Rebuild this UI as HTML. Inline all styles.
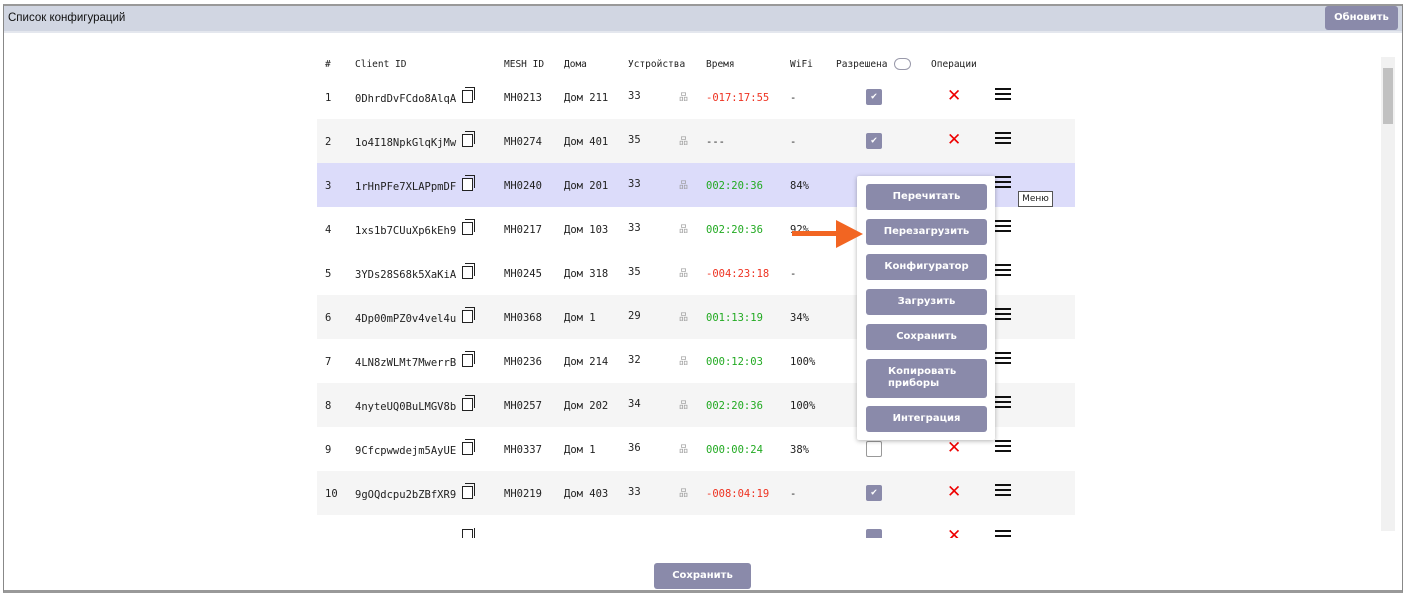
<!DOCTYPE html>
<html><head><meta charset="utf-8"><style>
*{box-sizing:border-box;margin:0;padding:0}
body{width:1406px;height:594px;background:#fff;font-family:"DejaVu Sans Mono","Liberation Mono",monospace;font-size:10.5px;color:#222;position:relative;overflow:hidden}
.frame{position:absolute;left:3px;top:4px;width:1400px;height:589px;border:1px solid #888;border-top:2px solid #999;border-bottom:3px solid #999}
.hdr{position:absolute;left:4px;top:6px;width:1398px;height:27px;background:#d1d6e2;border-bottom:2px solid #e4e7ee}
.hdr span{position:absolute;left:4px;top:6px;font-family:"Liberation Sans",sans-serif;font-size:11.5px;color:#111}
.btn{position:absolute;background:#8a8aaa;color:#fff;border-radius:3px;font-family:"DejaVu Sans",sans-serif;font-size:10px;font-weight:bold;text-align:center}
.row{position:absolute;left:317px;width:758px;height:44px}
.c{position:absolute;white-space:nowrap}
.cb{position:absolute;width:16px;height:16px;border-radius:2px;background:#8a8aaa;color:#fff;font-size:10px;text-align:center;line-height:16px}
.cbe{position:absolute;width:16px;height:16px;border-radius:2px;border:1px solid #999;background:#fff}
.x{position:absolute;color:#e00;font-family:"DejaVu Sans",sans-serif;font-size:17px;line-height:17px}
.hb{position:absolute;width:16px;height:12px;border-top:2.5px solid #111;border-bottom:2.5px solid #111}
.hb:after{content:"";position:absolute;left:0;top:2.5px;width:16px;height:2.5px;background:#111}
.cp{position:absolute;width:11px;height:13px;border:1.5px solid #222;background:#fff}
.cp:before{content:"";position:absolute;left:2px;top:-4px;width:9px;height:12px;border:1.5px solid #222;border-left:none;border-bottom:none}
.red{color:#e32}.grn{color:#2a2}
.ic{position:absolute;color:#999;font-size:9px}
</style></head><body>
<div class="frame"></div>
<div class="hdr"><span>Список конфигураций</span></div>
<div class="btn" style="left:1325px;top:6px;width:73px;height:24px;line-height:24px">Обновить</div>

<div class="c" style="left:325px;top:59px;font-size:9.5px"># </div>
<div class="c" style="left:355px;top:59px;font-size:9.5px">Client ID</div>
<div class="c" style="left:504px;top:59px;font-size:9.5px">MESH ID</div>
<div class="c" style="left:564px;top:59px;font-size:9.5px">Дома</div>
<div class="c" style="left:628px;top:59px;font-size:9.5px">Устройства</div>
<div class="c" style="left:706px;top:59px;font-size:9.5px">Время</div>
<div class="c" style="left:790px;top:59px;font-size:9.5px">WiFi</div>
<div class="c" style="left:836px;top:59px;font-size:9.5px">Разрешена</div>
<div style="position:absolute;left:894px;top:58px;width:17px;height:12px;border:1px solid #99a;border-radius:7px"></div>
<div class="c" style="left:931px;top:59px;font-size:9.5px">Операции</div>

<div class="row" style="top:119px;background:#f5f5f5"></div>
<div class="row" style="top:163px;background:#dcdcfa"></div>
<div class="row" style="top:295px;background:#f5f5f5"></div>
<div class="row" style="top:383px;background:#f5f5f5"></div>
<div class="row" style="top:471px;background:#f5f5f5"></div>

<div id="rows"></div>
<script>
var d=[["1","0DhrdDvFCdo8AlqA","MH0213","Дом 211","33","-017:17:55","red","-",1],
["2","1o4I18NpkGlqKjMw","MH0274","Дом 401","35","---","","-",1],
["3","1rHnPFe7XLAPpmDF","MH0240","Дом 201","33","002:20:36","grn","84%",2],
["4","1xs1b7CUuXp6kEh9","MH0217","Дом 103","33","002:20:36","grn","92%",2],
["5","3YDs28S68k5XaKiA","MH0245","Дом 318","35","-004:23:18","red","-",2],
["6","4Dp00mPZ0v4vel4u","MH0368","Дом 1","29","001:13:19","grn","34%",2],
["7","4LN8zWLMt7MwerrB","MH0236","Дом 214","32","000:12:03","grn","100%",2],
["8","4nyteUQ0BuLMGV8b","MH0257","Дом 202","34","002:20:36","grn","100%",2],
["9","9Cfcpwwdejm5AyUE","MH0337","Дом 1","36","000:00:24","grn","38%",0],
["10","9gOQdcpu2bZBfXR9","MH0219","Дом 403","33","-008:04:19","red","-",1]];
var h="";
d.forEach(function(r,i){var y=92+i*44;
h+='<div class="c" style="left:325px;top:'+y+'px">'+r[0]+'</div>';
h+='<div class="c" style="left:355px;top:'+(y+1)+'px">'+r[1]+'</div>';
h+='<div class="cp" style="left:462px;top:'+(y-2)+'px"></div>';
h+='<div class="c" style="left:504px;top:'+y+'px">'+r[2]+'</div>';
h+='<div class="c" style="left:564px;top:'+y+'px">'+r[3]+'</div>';
h+='<div class="c" style="left:628px;top:'+(y-2)+'px">'+r[4]+'</div>';
h+='<div class="ic" style="left:679px;top:'+(y-2)+'px">品</div>';
h+='<div class="c '+r[6]+'" style="left:706px;top:'+y+'px">'+r[5]+'</div>';
h+='<div class="c" style="left:790px;top:'+y+'px">'+r[7]+'</div>';
if(r[8]==1)h+='<div class="cb" style="left:866px;top:'+(y-3)+'px">✔</div>';
if(r[8]==0)h+='<div class="cbe" style="left:866px;top:'+(y-3)+'px"></div>';
if(r[8]!=2||i>=8)h+='<div class="x" style="left:947px;top:'+(y-4)+'px">✕</div>';
h+='<div class="hb" style="left:995px;top:'+(y-4)+'px"></div>';});
document.getElementById("rows").innerHTML=h;
</script>
<div style="position:absolute;left:317px;top:528px;width:758px;height:10px;overflow:hidden">
<div class="cp" style="left:145px;top:1px"></div>
<div class="cb" style="left:549px;top:1px"></div>
<div class="x" style="left:630px;top:0px">✕</div>
<div class="hb" style="left:678px;top:2px"></div>
</div>

<div style="position:absolute;left:1381px;top:57px;width:14px;height:474px;background:#f1f1f1"></div>
<div style="position:absolute;left:1383px;top:68px;width:10px;height:56px;background:#c1c1c1"></div>

<div style="position:absolute;left:1018px;top:191px;width:35px;height:16px;border:1px solid #555;background:#fff;font-family:'DejaVu Sans',sans-serif;font-size:9px;text-align:center;line-height:14px">Меню</div>

<div style="position:absolute;left:857px;top:176px;width:138px;height:264px;background:#fff;box-shadow:0 1px 5px rgba(0,0,0,.3);border-radius:2px"></div>
<div class="btn" style="left:866px;top:184px;width:121px;height:26px;line-height:26px">Перечитать</div>
<div class="btn" style="left:866px;top:219px;width:121px;height:26px;line-height:26px">Перезагрузить</div>
<div class="btn" style="left:866px;top:254px;width:121px;height:26px;line-height:26px">Конфигуратор</div>
<div class="btn" style="left:866px;top:289px;width:121px;height:26px;line-height:26px">Загрузить</div>
<div class="btn" style="left:866px;top:324px;width:121px;height:26px;line-height:26px">Сохранить</div>
<div class="btn" style="left:866px;top:359px;width:121px;height:39px;line-height:12px;text-align:left;padding:7px 0 0 22px">Копировать<br>приборы</div>
<div class="btn" style="left:866px;top:406px;width:121px;height:26px;line-height:26px">Интеграция</div>

<div style="position:absolute;left:792px;top:231px;width:45px;height:5px;background:#f26522"></div>
<div style="position:absolute;left:836px;top:220px;width:0;height:0;border-top:14px solid transparent;border-bottom:14px solid transparent;border-left:27px solid #f26522"></div>

<div class="btn" style="left:654px;top:563px;width:97px;height:26px;line-height:26px">Сохранить</div>
</body></html>
